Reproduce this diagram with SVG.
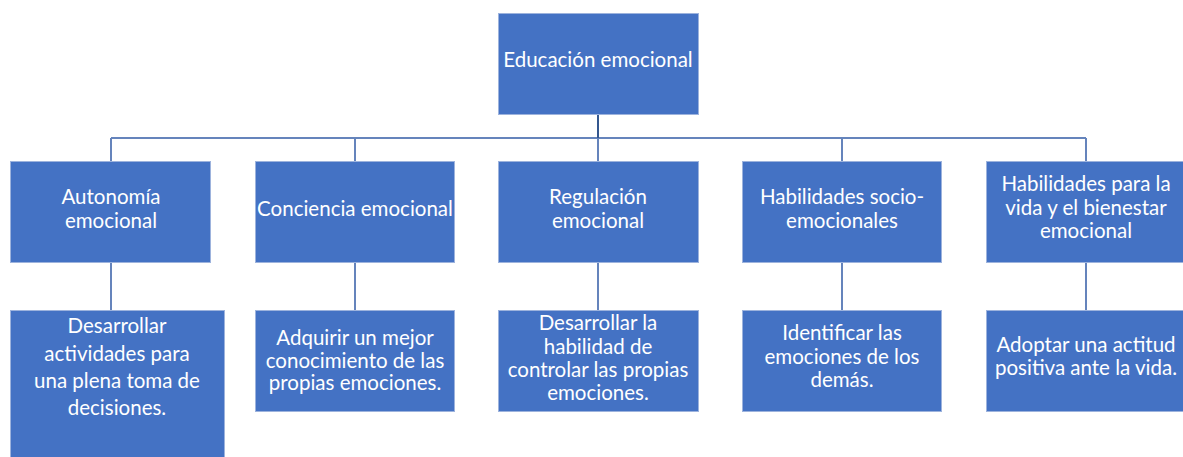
<svg xmlns="http://www.w3.org/2000/svg" width="1183" height="457" viewBox="0 0 1183 457">
<style>
.box{fill:#4472C4;stroke:#9DB3DD;stroke-width:1}
.t{font-family:Lato,"Liberation Sans",sans-serif;font-size:20.5px;fill:#ffffff;text-anchor:middle}
.c{stroke:#6584BC;stroke-width:2;fill:none}
.cd{stroke:#34578F;stroke-width:2;fill:none}
</style>
<rect width="1183" height="457" fill="#ffffff"/>
<g id="connectors">
<path class="c" d="M111 138H1086M111 138V161M355 138V161M598 138V161M842 138V161M1086 138V161"/>
<path class="cd" d="M598 114V138"/>
<path class="c" d="M111 263V310M355 263V310M598 263V310M842 263V310M1086 263V310"/>
</g>
<g id="root"><rect class="box" x="498.5" y="13.5" width="200" height="101"/><text class="t" x="598" y="67">Educación emocional</text></g>
<g id="n1"><rect class="box" x="10.5" y="161.5" width="200" height="101"/><text class="t" x="111" y="204">Autonomía</text><text class="t" x="111" y="228">emocional</text></g>
<g id="n2"><rect class="box" x="255.5" y="161.5" width="199" height="101"/><text class="t" x="355" y="216">Conciencia emocional</text></g>
<g id="n3"><rect class="box" x="498.5" y="161.5" width="200" height="101"/><text class="t" x="598" y="204">Regulación</text><text class="t" x="598" y="228">emocional</text></g>
<g id="n4"><rect class="box" x="742.5" y="161.5" width="199" height="101"/><text class="t" x="842" y="204">Habilidades socio-</text><text class="t" x="842" y="228">emocionales</text></g>
<g id="n5"><rect class="box" x="986.5" y="161.5" width="200" height="101"/><text class="t" x="1086" y="191">Habilidades para la</text><text class="t" x="1086" y="215">vida y el bienestar</text><text class="t" x="1086" y="238">emocional</text></g>
<g id="d1"><rect class="box" x="10.5" y="310.5" width="214" height="160"/><text class="t" x="117" y="333">Desarrollar</text><text class="t" x="117" y="361">actividades para</text><text class="t" x="117" y="388">una plena toma de</text><text class="t" x="117" y="415">decisiones.</text></g>
<g id="d2"><rect class="box" x="255.5" y="310.5" width="199" height="101"/><text class="t" x="355" y="345">Adquirir  un mejor</text><text class="t" x="355" y="368">conocimiento de las</text><text class="t" x="355" y="390">propias emociones.</text></g>
<g id="d3"><rect class="box" x="498.5" y="310.5" width="200" height="101"/><text class="t" x="598" y="330">Desarrollar la</text><text class="t" x="598" y="354">habilidad  de</text><text class="t" x="598" y="377">controlar las propias</text><text class="t" x="598" y="400">emociones.</text></g>
<g id="d4"><rect class="box" x="742.5" y="310.5" width="199" height="101"/><text class="t" x="842" y="340">Identificar las</text><text class="t" x="842" y="364">emociones de los</text><text class="t" x="842" y="387">demás.</text></g>
<g id="d5"><rect class="box" x="986.5" y="310.5" width="200" height="101"/><text class="t" x="1086" y="352">Adoptar una actitud</text><text class="t" x="1086" y="375">positiva ante la vida.</text></g>
</svg>
